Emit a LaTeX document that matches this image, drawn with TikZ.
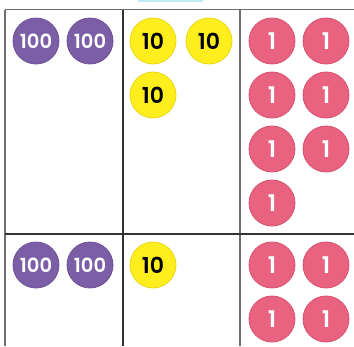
\documentclass[tikz,border=0pt]{standalone}
\usepackage{fontspec}
\setmainfont{Poppins}
\newfontfamily\discfont{Poppins SemiBold}
\definecolor{hundred}{RGB}{124,94,166}
\definecolor{hundredrim}{RGB}{110,80,150}
\definecolor{tencol}{RGB}{255,238,30}
\definecolor{tenrim}{RGB}{235,215,20}
\definecolor{onecol}{RGB}{233,98,128}
\definecolor{onerim}{RGB}{215,82,112}
\definecolor{gridgray}{RGB}{110,110,110}
\definecolor{topbar}{RGB}{190,234,246}
\tikzset{
  disc/.style={circle, minimum size=46pt, inner sep=0pt, line width=0.8pt},
  hundreddisc/.style={disc, fill=hundred, draw=hundredrim, text=white, font=\discfont\fontsize{19.5}{19.5}\selectfont},
  tendisc/.style={disc, fill=tencol, draw=tenrim, text=black, font=\discfont\fontsize{22}{22}\selectfont},
  onedisc/.style={disc, fill=onecol, draw=onerim, text=white, font=\discfont\fontsize{23}{23}\selectfont},
  gridline/.style={line width=1.6pt, draw=gridgray},
  darkline/.style={line width=1.3pt, draw=black!80}
}
\begin{document}
\begin{tikzpicture}[x=1pt, y=-1pt]
\useasboundingbox (0,0) rectangle (354,346);
\fill[white] (0,0) rectangle (354,346);
\fill[topbar] (138,0) rectangle (203,1.6);
% grid
\coordinate (tl) at (5,9.5);
\coordinate (tr) at (354,9.5);
\coordinate (bl) at (5,346);
\coordinate (ml) at (5,234);
\coordinate (mr) at (354,234);
\coordinate (c1t) at (123,9.5);
\coordinate (c1b) at (123,346);
\coordinate (c2t) at (240,9.5);
\coordinate (c2b) at (240,346);
\draw[gridline] (tl) -- (tr);
\draw[gridline] (tl) -- (bl);
\draw[darkline] (c1t) -- (c1b);
\draw[gridline] (c2t) -- (c2b);
\draw[darkline] (ml) -- (mr);
% top row
\node[hundreddisc] (h1) at (36,41) {100};
\node[hundreddisc] (h2) at (90,41) {100};
\node[tendisc] (t1) at (153,41) {10};
\node[tendisc] (t2) at (209,41) {10};
\node[tendisc] (t3) at (153,95) {10};
\node[onedisc] (o1) at (272,41) {1};
\node[onedisc] (o2) at (326,41) {1};
\node[onedisc] (o3) at (272,95) {1};
\node[onedisc] (o4) at (326,95) {1};
\node[onedisc] (o5) at (272,149) {1};
\node[onedisc] (o6) at (326,149) {1};
\node[onedisc] (o7) at (272,203) {1};
% bottom row
\node[hundreddisc] (h3) at (36,265) {100};
\node[hundreddisc] (h4) at (90,265) {100};
\node[tendisc] (t4) at (153,265) {10};
\node[onedisc] (o8) at (272,265) {1};
\node[onedisc] (o9) at (326,265) {1};
\node[onedisc] (o10) at (272,319) {1};
\node[onedisc] (o11) at (326,319) {1};
\end{tikzpicture}
\end{document}
